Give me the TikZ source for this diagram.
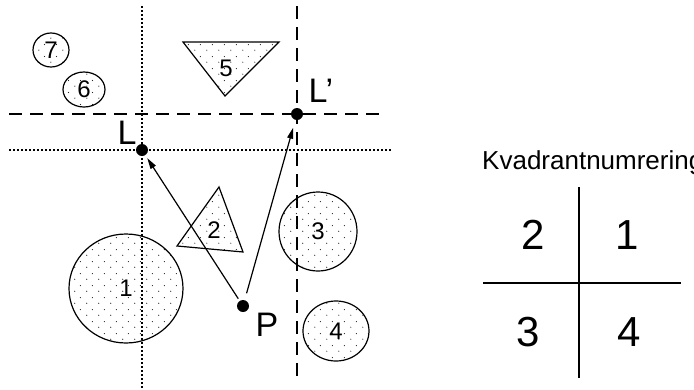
\documentclass[tikz,border=0pt]{standalone}
\usepackage{fontspec}
\setmainfont{Liberation Sans}
\usetikzlibrary{shapes.geometric,patterns.meta,arrows.meta}
\tikzdeclarepattern{
  name=sdots, type=colored,
  bottom left={(0pt,0pt)}, top right={(12pt,12pt)}, tile size={(12pt,12pt)},
  code={\fill[black!85] (3pt,3pt) circle (0.65pt); \fill[black!85] (9pt,9pt) circle (0.65pt);}
}
\begin{document}
\begin{tikzpicture}[x=1pt,y=-1pt,
  guide/.style={line width=1.3pt},
  dotline/.style={guide, dash pattern=on 1.8pt off 2.2pt},
  dashline/.style={guide, dash pattern=on 12.5pt off 8.5pt},
  blob/.style={ellipse, draw, line width=1.2pt, pattern=sdots, inner sep=0pt, font=\fontsize{24}{24}\selectfont},
  tri/.style={draw, line width=1.2pt, pattern=sdots, line join=miter},
  num/.style={font=\fontsize{24}{24}\selectfont, inner sep=0pt},
  dotpt/.style={circle, fill=black, minimum size=12pt, inner sep=0pt},
  big/.style={font=\fontsize{34}{34}\selectfont, inner sep=0pt},
  quad/.style={font=\fontsize{42}{42}\selectfont, inner sep=0pt},
  arr/.style={line width=1.2pt, -{Triangle[length=11pt,width=6pt]}},
  qline/.style={line width=1.2pt},
]
\clip (0,0) rectangle (694,389);
% guide lines
\draw[dotline] (142,6) -- (142,389);
\draw[dotline] (9,150) -- (392,150);
\draw[dashline] (9,114) -- (382,114);
\draw[dashline] (297,6) -- (297,378);
% shapes
\node[blob, minimum width=36pt, minimum height=34pt] (c7) at (51,50) {7};
\node[blob, minimum width=42pt, minimum height=35pt] (c6) at (84,89.5) {6};
\draw[tri] (183,42) -- (279,42) -- (225,96) -- cycle;
\node[num] (t5) at (226,68.5) {5};
\draw[tri] (219,187) -- (177,246) -- (243,252) -- cycle;
\node[num] (t2) at (214,230.5) {2};
\node[blob, minimum width=114pt, minimum height=109pt] (c1) at (126,288.5) {1};
\node[blob, minimum width=78pt, minimum height=79pt] (c3) at (318,231.5) {3};
\node[blob, minimum width=66pt, minimum height=60pt] (c4) at (336,331) {4};
% points
\node[dotpt] (L) at (142,150) {};
\node[dotpt] (Lp) at (297,114) {};
\node[dotpt] (P) at (243,306) {};
\node[big] (Llab) at (127,132.5) {L};
\node[big] (Lplab) at (321,91) {L’};
\node[big] (Plab) at (267,324.5) {P};
% arrows
\draw[arr, shorten <=2.5pt, shorten >=3.5pt] (P) -- (L);
\draw[arr, shorten <=7pt, shorten >=8pt] (P) -- (Lp);
% quadrant numbering
\node[anchor=base west, inner sep=0pt, font=\fontsize{26}{26}\selectfont] (title) at (482,169) {Kvadrantnumrering};
\coordinate (vt) at (579,187);
\coordinate (vb) at (579,378);
\coordinate (hl) at (483,283);
\coordinate (hr) at (681,283);
\draw[qline] (vt) -- (vb);
\draw[qline] (hl) -- (hr);
\node[quad] (q2) at (533,235) {2};
\node[quad] (q1) at (627,235) {1};
\node[quad] (q3) at (528,332.5) {3};
\node[quad] (q4) at (629,332.5) {4};
\end{tikzpicture}
\end{document}
